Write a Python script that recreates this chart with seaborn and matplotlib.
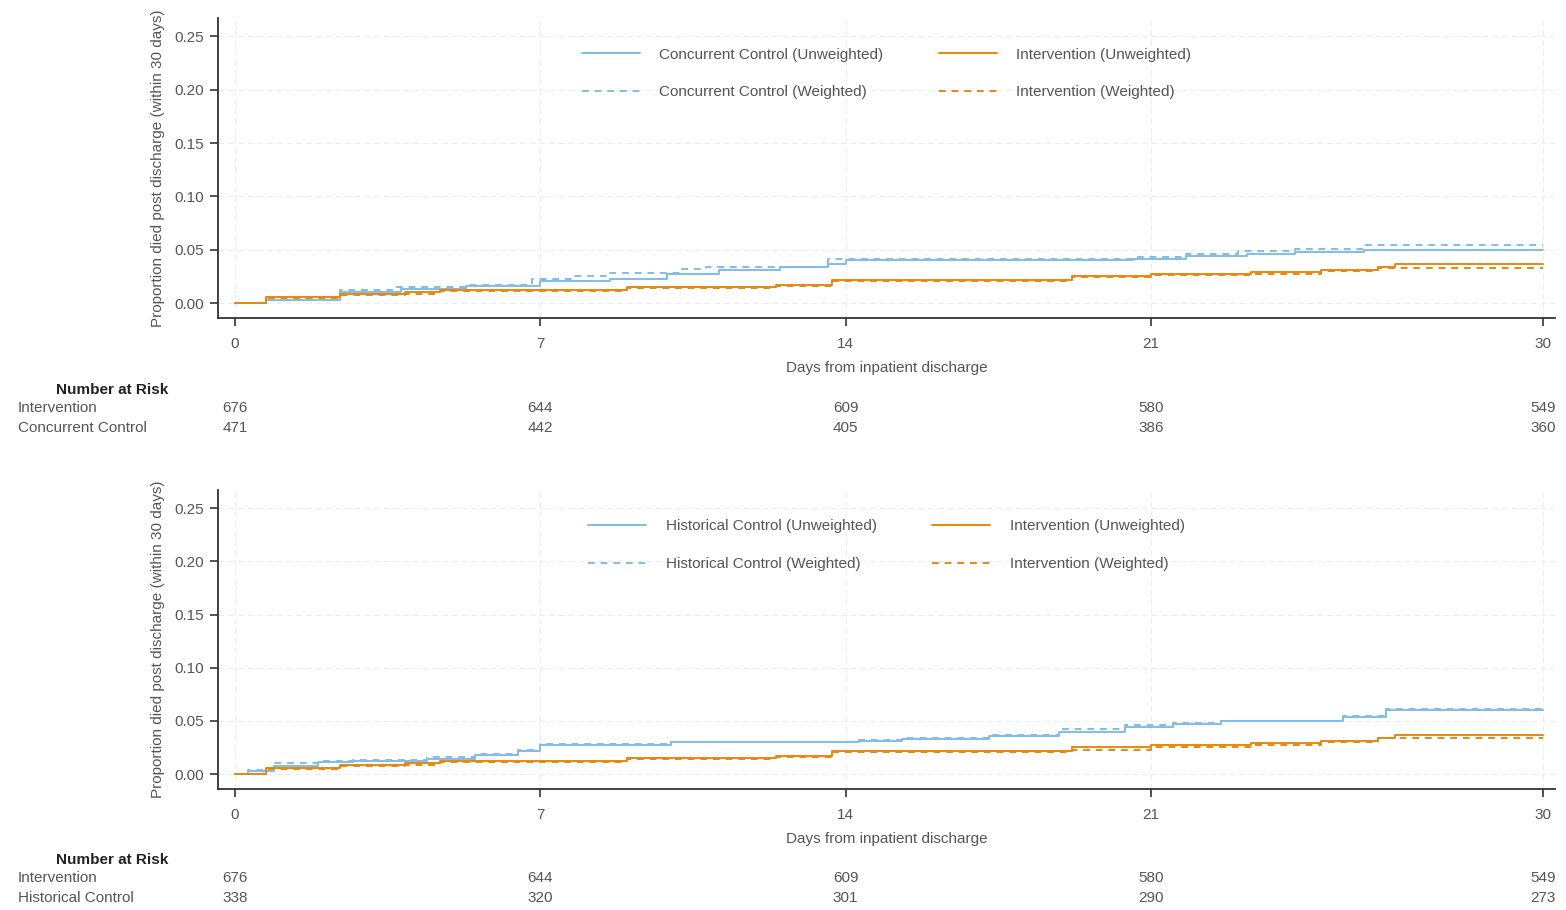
import matplotlib
matplotlib.use("Agg")
import matplotlib.pyplot as plt
import matplotlib.transforms as mtransforms
import seaborn as sns
import pandas as pd

# step curves (day, cumulative proportion died)
cc_unw_t = [0, 0.7, 2.4, 3.8, 5.3, 7.0, 8.6, 9.9, 11.1, 12.5, 13.6, 14.0, 20.6, 21.8, 23.2, 24.3, 25.9, 30]
cc_unw_y = [0, 0.003, 0.010, 0.013, 0.016, 0.021, 0.023, 0.027, 0.031, 0.034, 0.037, 0.040, 0.041, 0.044, 0.046, 0.048, 0.050, 0.050]
cc_w_t = [0, 0.7, 2.4, 3.6, 5.3, 6.8, 7.7, 8.6, 10.2, 10.8, 13.6, 20.6, 21.8, 23.0, 24.3, 25.9, 30]
cc_w_y = [0, 0.003, 0.012, 0.015, 0.017, 0.023, 0.025, 0.028, 0.032, 0.034, 0.041, 0.043, 0.046, 0.049, 0.051, 0.054, 0.054]

iv_unw_t = [0, 0.7, 2.4, 3.9, 4.7, 9.0, 12.4, 13.7, 19.2, 21.0, 23.3, 24.9, 26.2, 26.6, 30]
iv_unw_y = [0, 0.006, 0.009, 0.010, 0.012, 0.015, 0.017, 0.022, 0.025, 0.027, 0.029, 0.031, 0.034, 0.037, 0.037]
iv_w1_t = [0, 0.7, 2.4, 3.9, 4.7, 9.0, 12.4, 13.7, 19.2, 21.0, 23.3, 24.9, 26.2, 30]
iv_w1_y = [0, 0.005, 0.008, 0.009, 0.011, 0.014, 0.016, 0.021, 0.024, 0.026, 0.027, 0.030, 0.033, 0.033]

hc_unw_t = [0, 0.3, 0.9, 1.9, 2.7, 4.4, 5.5, 6.5, 7.0, 10.0, 14.3, 15.3, 17.3, 18.9, 20.4, 21.5, 22.6, 25.4, 26.4, 30]
hc_unw_y = [0, 0.003, 0.008, 0.011, 0.012, 0.014, 0.018, 0.022, 0.027, 0.030, 0.031, 0.033, 0.036, 0.040, 0.044, 0.047, 0.050, 0.054, 0.060, 0.060]
hc_w_t = [0, 0.3, 0.9, 1.9, 2.7, 4.4, 5.5, 6.5, 7.0, 10.0, 14.3, 15.3, 17.3, 18.9, 20.4, 21.5, 22.6, 25.4, 26.4, 30]
hc_w_y = [0, 0.004, 0.010, 0.012, 0.013, 0.016, 0.019, 0.023, 0.028, 0.030, 0.032, 0.034, 0.037, 0.042, 0.046, 0.048, 0.050, 0.055, 0.061, 0.061]

iv_w2_t = [0, 0.7, 2.4, 3.9, 4.7, 9.0, 12.4, 13.7, 19.2, 21.0, 23.3, 24.9, 26.2, 30]
iv_w2_y = [0, 0.005, 0.008, 0.009, 0.011, 0.014, 0.016, 0.021, 0.023, 0.025, 0.027, 0.030, 0.034, 0.034]

risk_days = [0, 7, 14, 21, 30]
risk_iv = [676, 644, 609, 580, 549]
risk_cc = [471, 442, 405, 386, 360]
risk_hc = [338, 320, 301, 290, 273]

BLUE = "#80bde9"
ORANGE = "#e8870e"
TXT = "#555555"
FS = 11

sns.set_theme(style="white")
plt.rcParams['font.family'] = ['Liberation Sans', 'DejaVu Sans']

fig = plt.figure(figsize=(15.66, 9.10), dpi=100)
ax1 = fig.add_axes([0.1392, 0.6505, 0.8538, 0.3295])
ax2 = fig.add_axes([0.1392, 0.1330, 0.8538, 0.3285])


def draw_panel(ax, ctrl_name, c_unw, c_w, i_unw, i_w):
    series = [
        (c_unw, BLUE, '-', f'{ctrl_name} (Unweighted)'),
        (c_w, BLUE, (0, (3.5, 3)), f'{ctrl_name} (Weighted)'),
        (i_unw, ORANGE, '-', 'Intervention (Unweighted)'),
        (i_w, ORANGE, (0, (3.5, 3)), 'Intervention (Weighted)'),
    ]
    for (t, y), col, ls, lab in series:
        df = pd.DataFrame({'day': t, 'prop': y})
        sns.lineplot(data=df, x='day', y='prop', ax=ax, color=col, linestyle=ls,
                     drawstyle='steps-post', estimator=None, linewidth=1.4, label=lab)

    ax.set_xlim(-0.39, 30.27)
    ax.set_ylim(-0.014, 0.267)
    ax.set_xticks(risk_days)
    ax.set_yticks([0, 0.05, 0.10, 0.15, 0.20, 0.25])
    ax.set_yticklabels([f'{v:.2f}' for v in ax.get_yticks()])
    ax.grid(True, color='#ececec', linestyle=(0, (6, 4)), linewidth=0.7)
    ax.set_axisbelow(True)
    for s in ['top', 'right']:
        ax.spines[s].set_visible(False)
    for s in ['left', 'bottom']:
        ax.spines[s].set_color('#333333')
        ax.spines[s].set_linewidth(1.3)
    ax.tick_params(axis='y', direction='out', length=6, width=1.2, color='#333333',
                   labelsize=FS, labelcolor=TXT, pad=4, left=True)
    ax.tick_params(axis='x', direction='out', length=6, width=1.2, color='#333333',
                   labelsize=FS, labelcolor=TXT, pad=8, bottom=True)
    ax.set_xlabel('Days from inpatient discharge', fontsize=FS, color=TXT, labelpad=7)
    ax.set_ylabel('Proportion died post discharge (within 30 days)', fontsize=FS, color=TXT, labelpad=7)
    ax.legend(loc='upper center', bbox_to_anchor=(0.5, 0.948), ncol=2, frameon=False,
              fontsize=FS, handlelength=3.8, handletextpad=1.3, columnspacing=3.6,
              labelspacing=1.55, labelcolor=TXT)


def draw_risk(ax, ctrl_name, ctrl_vals, y_head):
    trans = mtransforms.blended_transform_factory(ax.transData, fig.transFigure)
    fig.text(112 / 1566, y_head, 'Number at Risk', fontsize=FS, fontweight='bold',
             color='#222222', ha='center', va='center')
    rows = [('Intervention', risk_iv), (ctrl_name, ctrl_vals)]
    for k, (name, vals) in enumerate(rows):
        yy = y_head - (18 + 20 * k) / 910
        fig.text(18 / 1566, yy, name, fontsize=FS, color=TXT, ha='left', va='center')
        for d, v in zip(risk_days, vals):
            ax.text(d, yy, str(v), transform=trans, fontsize=FS, color=TXT,
                    ha='center', va='center')


draw_panel(ax1, 'Concurrent Control', (cc_unw_t, cc_unw_y), (cc_w_t, cc_w_y),
           (iv_unw_t, iv_unw_y), (iv_w1_t, iv_w1_y))
draw_panel(ax2, 'Historical Control', (hc_unw_t, hc_unw_y), (hc_w_t, hc_w_y),
           (iv_unw_t, iv_unw_y), (iv_w2_t, iv_w2_y))

draw_risk(ax1, 'Concurrent Control', risk_cc, 1 - 390 / 910)
draw_risk(ax2, 'Historical Control', risk_hc, 1 - 860 / 910)

fig.savefig('out.png', dpi=100)
